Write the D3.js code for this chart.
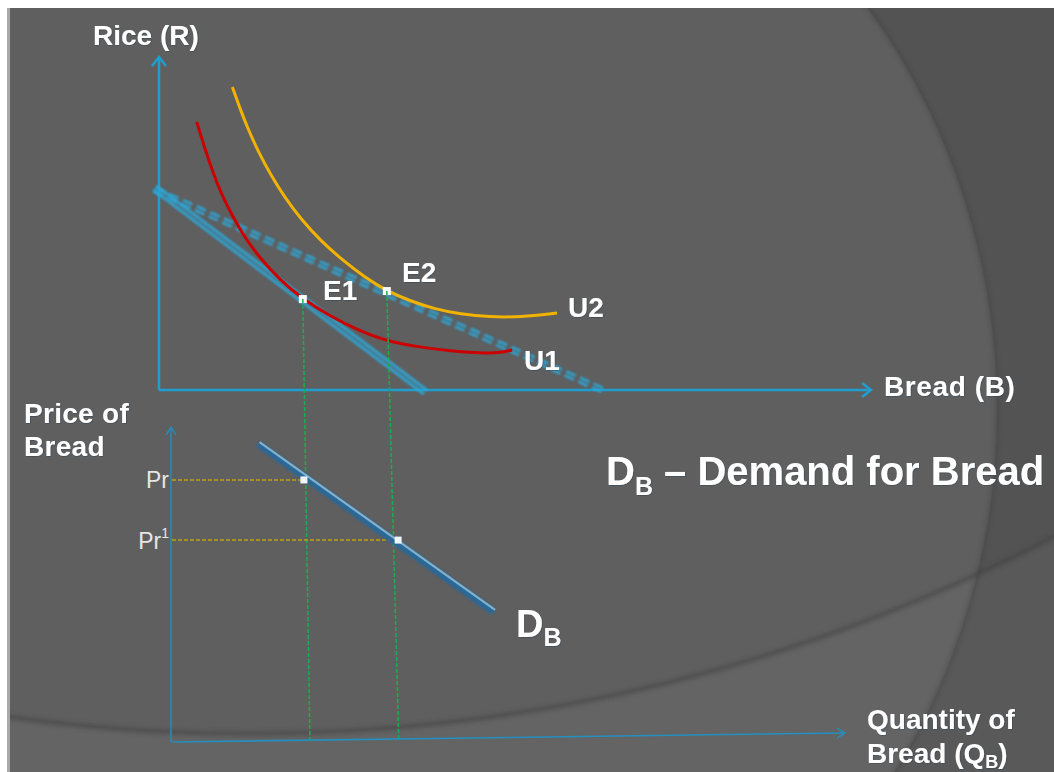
<!DOCTYPE html>
<html>
<head>
<meta charset="utf-8">
<script src="https://cdn.jsdelivr.net/npm/d3@7/dist/d3.min.js"></script>
<style>
  html, body { margin: 0; padding: 0; background: #ffffff; }
  svg { display: block; }
  text { font-family: "Liberation Sans", Arial, sans-serif; }
</style>
</head>
<body>
<svg id="chart" width="1054" height="772"></svg>
<script>
// ---- Upper panel: rice vs bread (indifference curves and budget lines) ----
const budgetOld = [[-0.06, 6.07], [3.74, -0.06]];   // before bread gets cheaper
const budgetNew = [[-0.06, 6.01], [6.29, -0.06]];   // after the price fall (dashed)
const curveU1 = [[0.53, 8.05], [0.65, 7.21], [0.76, 6.52], [0.88, 5.86], [1.03, 5.23],
                 [1.21, 4.56], [1.42, 3.96], [1.70, 3.30], [2.02, 2.73], [2.40, 2.22],
                 [2.82, 1.77], [3.24, 1.44], [3.67, 1.29], [4.09, 1.17], [4.51, 1.11],
                 [4.79, 1.11], [4.96, 1.20]];
const curveU2 = [[1.03, 9.10], [1.14, 8.44], [1.25, 7.84], [1.39, 7.18], [1.56, 6.49],
                 [1.77, 5.77], [1.98, 5.17], [2.26, 4.50], [2.61, 3.84], [2.89, 3.39],
                 [3.20, 2.97], [3.53, 2.67], [3.88, 2.43], [4.23, 2.28], [4.65, 2.19],
                 [5.07, 2.19], [5.59, 2.31]];
const equilibria = [{ name: "E1", x: 2.02, y: 2.73 }, { name: "E2", x: 3.20, y: 2.97 }];

// ---- Lower panel: demand for bread ----
const demandLine = [[1.28, 9.46], [4.78, 4.13]];
const priceLevels = [8.32, 6.41];
const priceLabels = ["Pr", "Pr"];
const priceMarks = ["", "1"];           // superscript after each price label
const quantityAtPrice = [1.96, 3.36];   // points on the demand curve
const quantityFoot = [2.05, 3.37];      // where the guide lines meet the quantity axis

const svg = d3.select("#chart");
const W = 1054, H = 772;

// ---------- slide background ----------
const defs = svg.append("defs");
defs.append("clipPath").attr("id", "slide")
  .append("rect").attr("x", 10).attr("y", 8).attr("width", W - 10).attr("height", H - 8);
const soft = defs.append("filter").attr("id", "soft").attr("x", "-20%").attr("y", "-20%")
  .attr("width", "140%").attr("height", "140%");
soft.append("feGaussianBlur").attr("stdDeviation", 2.2);
const glow = defs.append("filter").attr("id", "glow").attr("x", "-10%").attr("y", "-10%")
  .attr("width", "120%").attr("height", "120%");
glow.append("feGaussianBlur").attr("stdDeviation", 0.9);
const txtShadow = defs.append("filter").attr("id", "tshadow").attr("x", "-10%").attr("y", "-20%")
  .attr("width", "120%").attr("height", "140%");
txtShadow.append("feDropShadow").attr("dx", 0.6).attr("dy", 0.6).attr("stdDeviation", 0.5)
  .attr("flood-color", "#1b3a55").attr("flood-opacity", 0.6);

svg.append("rect").attr("x", 7).attr("y", 8).attr("width", 3).attr("height", H - 8).attr("fill", "#a9a9a9");
const bg = svg.append("g").attr("clip-path", "url(#slide)");
bg.append("rect").attr("x", 10).attr("y", 8).attr("width", W - 10).attr("height", H - 8).attr("fill", "#5f5f5f");

// large disc: everything outside it is a little darker
const disc = { cx: 400, cy: 410, rx: 597, ry: 647 };
const ring = { cx: 250, cy: -1005, r: 1739 };
bg.append("path")
  .attr("fill-rule", "evenodd")
  .attr("fill", "#535353")
  .attr("d", `M0,0H${W}V${H}H0Z M${disc.cx - disc.rx},${disc.cy}` +
    `a${disc.rx},${disc.ry} 0 1,0 ${2 * disc.rx},0 a${disc.rx},${disc.ry} 0 1,0 ${-2 * disc.rx},0Z`);
// lower band below the sweeping arc
bg.append("path")
  .attr("fill-rule", "evenodd")
  .attr("fill", "#ffffff").attr("opacity", 0.035)
  .attr("d", `M-200,-1200H1300V${H + 50}H-200Z M${ring.cx - ring.r},${ring.cy}` +
    `a${ring.r},${ring.r} 0 1,0 ${2 * ring.r},0 a${ring.r},${ring.r} 0 1,0 ${-2 * ring.r},0Z`);
bg.append("ellipse").attr("cx", disc.cx).attr("cy", disc.cy).attr("rx", disc.rx).attr("ry", disc.ry)
  .attr("fill", "none").attr("stroke", "#3f3f3f").attr("stroke-width", 3).attr("opacity", 0.55)
  .attr("filter", "url(#soft)");
bg.append("circle").attr("cx", ring.cx).attr("cy", ring.cy).attr("r", ring.r)
  .attr("fill", "none").attr("stroke", "#3f3f3f").attr("stroke-width", 4).attr("opacity", 0.6)
  .attr("filter", "url(#soft)");

// ---------- upper panel ----------
const x = d3.scaleLinear().domain([0, 10]).range([159, 871]);
const y = d3.scaleLinear().domain([0, 10]).range([390, 57]);
const axisBlue = "#1f9fd0";

const upper = svg.append("g");
upper.append("line").attr("x1", x(0)).attr("y1", y(0)).attr("x2", x(0)).attr("y2", y(10))
  .attr("stroke", axisBlue).attr("stroke-width", 2.5);
upper.append("line").attr("x1", x(0)).attr("y1", y(0)).attr("x2", x(10)).attr("y2", y(0))
  .attr("stroke", axisBlue).attr("stroke-width", 2.5);
// arrow heads
upper.append("path")
  .attr("d", `M${x(0) - 7},${y(10) + 9}L${x(0)},${y(10)}L${x(0) + 7},${y(10) + 9}`)
  .attr("fill", "none").attr("stroke", axisBlue).attr("stroke-width", 2.5);
upper.append("path")
  .attr("d", `M${x(10) - 9},${y(0) - 7}L${x(10)},${y(0)}L${x(10) - 9},${y(0) + 7}`)
  .attr("fill", "none").attr("stroke", axisBlue).attr("stroke-width", 2.5);

// budget lines drawn as a soft band with two bright edges
function budget(pts, dashed) {
  const p0 = [x(pts[0][0]), y(pts[0][1])], p1 = [x(pts[1][0]), y(pts[1][1])];
  const dx = p1[0] - p0[0], dy = p1[1] - p0[1], len = Math.hypot(dx, dy);
  const nx = -dy / len, ny = dx / len;
  const g = upper.append("g");
  const line = d3.line().x(d => x(d[0])).y(d => y(d[1]));
  const dash = dashed ? "10 5" : null;
  g.append("path").attr("d", line(pts)).attr("fill", "none")
    .attr("stroke", "#2a9ccc").attr("stroke-width", dashed ? 7 : 8)
    .attr("opacity", dashed ? 0.45 : 0.5)
    .attr("stroke-dasharray", dash)
    .attr("filter", "url(#glow)");
  const off = dashed ? 2.3 : 2.6;
  [-off, off].forEach(o => {
    g.append("path").attr("d", line(pts)).attr("fill", "none")
      .attr("transform", `translate(${nx * o},${ny * o})`)
      .attr("stroke", "#33aede").attr("stroke-width", 1.8)
      .attr("opacity", 0.9)
      .attr("stroke-dasharray", dash)
      .attr("filter", "url(#glow)");
  });
}
budget(budgetNew, true);
budget(budgetOld, false);

const curve = d3.line().x(d => x(d[0])).y(d => y(d[1])).curve(d3.curveBasis);
upper.append("path").attr("d", curve(curveU1)).attr("fill", "none")
  .attr("stroke", "#cc0000").attr("stroke-width", 3);
upper.append("path").attr("d", curve(curveU2)).attr("fill", "none")
  .attr("stroke", "#f2b300").attr("stroke-width", 3);

// ---------- lower panel ----------
const q = d3.scaleLinear().domain([0, 10]).range([172, 845]);
const p = d3.scaleLinear().domain([0, 10]).range([742, 427]);
const lowBlue = "#2490c0";

const lower = svg.append("g");
// guide lines from each equilibrium down to the quantity axis
equilibria.forEach((e, i) => {
  lower.append("line")
    .attr("x1", x(e.x)).attr("y1", y(e.y))
    .attr("x2", q(quantityFoot[i])).attr("y2", p(0) - 1)
    .attr("stroke", "#16b04e").attr("stroke-width", 1.5).attr("stroke-dasharray", "4 2");
});
// price guides
priceLevels.forEach((lv, i) => {
  lower.append("line")
    .attr("x1", q(0)).attr("y1", p(lv)).attr("x2", q(quantityAtPrice[i])).attr("y2", p(lv))
    .attr("stroke", "#c2a20e").attr("stroke-width", 1.5).attr("stroke-dasharray", "4 2");
});

// price axis with the two labelled price levels
const priceAxis = d3.axisLeft(p).tickValues(priceLevels)
  .tickFormat((d, i) => priceLabels[i]).tickSize(0).tickPadding(2);
const pa = lower.append("g").attr("transform", `translate(${q(0) - 1},0)`).call(priceAxis);
pa.select(".domain").remove();
pa.selectAll("text").attr("fill", "#e6e6e6").attr("font-size", 23)
  .attr("font-family", '"Liberation Sans", Arial, sans-serif')
  .attr("dy", "0.35em")
  .each(function (d, i) {
    if (priceMarks[i]) {
      d3.select(this).append("tspan").attr("font-size", 14).attr("dy", "-0.75em").text(priceMarks[i]);
    }
  });
lower.append("line").attr("x1", q(0) - 1).attr("y1", p(0)).attr("x2", q(0) - 1).attr("y2", p(10))
  .attr("stroke", lowBlue).attr("stroke-width", 1.4);
lower.append("path")
  .attr("d", `M${q(0) - 6},${p(10) + 8}L${q(0) - 1},${p(10)}L${q(0) + 4},${p(10) + 8}`)
  .attr("fill", "none").attr("stroke", lowBlue).attr("stroke-width", 1.4);
// quantity axis (the slide has it very slightly tilted)
const qa = lower.append("g").attr("transform", `rotate(-0.77,${q(0)},${p(0)})`);
qa.append("line").attr("x1", q(0)).attr("y1", p(0)).attr("x2", q(10)).attr("y2", p(0))
  .attr("stroke", lowBlue).attr("stroke-width", 1.6);
qa.append("path")
  .attr("d", `M${q(10) - 8},${p(0) - 5}L${q(10)},${p(0)}L${q(10) - 8},${p(0) + 5}`)
  .attr("fill", "none").attr("stroke", lowBlue).attr("stroke-width", 1.4);

// demand curve: dark band with a light top edge
{
  const dl = d3.line().x(d => q(d[0])).y(d => p(d[1]));
  const a = [q(demandLine[0][0]), p(demandLine[0][1])], b = [q(demandLine[1][0]), p(demandLine[1][1])];
  const len = Math.hypot(b[0] - a[0], b[1] - a[1]);
  const nx = (b[1] - a[1]) / len, ny = -(b[0] - a[0]) / len;
  lower.append("path").attr("d", dl(demandLine)).attr("fill", "none")
    .attr("stroke", "#2b6797").attr("stroke-width", 7).attr("filter", "url(#glow)");
  lower.append("path").attr("d", dl(demandLine)).attr("fill", "none")
    .attr("transform", `translate(${nx * 2.4},${ny * 2.4})`)
    .attr("stroke", "#7fb2cf").attr("stroke-width", 2.2);
}
// points on the demand curve
priceLevels.forEach((lv, i) => {
  lower.append("rect")
    .attr("x", q(quantityAtPrice[i]) - 3.5).attr("y", p(lv) - 3.5)
    .attr("width", 7).attr("height", 7).attr("fill", "#eef6fa");
});

// equilibrium points
upper.selectAll("rect.eq").data(equilibria).enter().append("rect").attr("class", "eq")
  .attr("x", d => x(d.x) - 4).attr("y", d => y(d.y) - 4)
  .attr("width", 8).attr("height", 8).attr("fill", "#ffffff");

// ---------- text ----------
const T = svg.append("g").attr("fill", "#ffffff").attr("font-weight", "bold")
  .attr("filter", "url(#tshadow)");
function label(txt, tx, ty, size) {
  return T.append("text").attr("x", tx).attr("y", ty).attr("font-size", size).text(txt);
}
label("Rice (R)", 93, 45, 28);
label("Bread (B)", 884, 396, 28).attr("letter-spacing", 0.6);
label("E1", 323, 300, 28);
label("E2", 402, 282, 28);
label("U2", 568, 317, 28);
label("U1", 524, 370, 28);
label("Price of", 24, 423, 28).attr("letter-spacing", 0.3);
label("Bread", 24, 456, 28).attr("letter-spacing", 0.3);
label("Quantity of", 867, 729, 28);
{
  const t = label("Bread (Q", 867, 763, 28);
  t.append("tspan").attr("font-size", 18).attr("dy", 5).text("B");
  t.append("tspan").attr("dy", -5).text(")");
}
{
  const t = label("D", 516, 637, 38);
  t.append("tspan").attr("font-size", 25).attr("dy", 9).text("B");
}
{
  const t = label("D", 606, 485, 40);
  t.append("tspan").attr("font-size", 25).attr("dy", 10).text("B");
  t.append("tspan").attr("dy", -10).text(" \u2013 Demand for Bread");
}
</script>
</body>
</html>
